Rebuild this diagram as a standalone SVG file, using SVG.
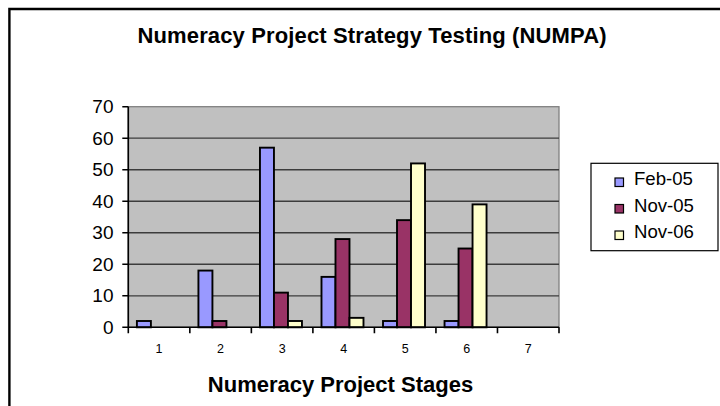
<svg xmlns="http://www.w3.org/2000/svg" width="720" height="406" viewBox="0 0 720 406">
<style>
text{font-family:"Liberation Sans",Arial,sans-serif;fill:#000}
.t{font-weight:bold;font-size:22px;text-anchor:middle}
.yl{font-size:19px;text-anchor:end}
.xl{font-size:12.5px;text-anchor:middle}
.lg{font-size:18.6px}
.grid{stroke:#3c3c3c;stroke-width:1.3}
.bar{stroke:#000;stroke-width:1.9}
.b{fill:#9999ff}.r{fill:#993366}.y{fill:#ffffcc}
.ax{stroke:#000;stroke-width:1.6;fill:none}
</style>
<rect width="720" height="406" fill="#fff"/>
<path d="M9.4,406 V9 H720" fill="none" stroke="#000" stroke-width="2.4"/>
<g id="title"><text class="t" x="372" y="43" textLength="469">Numeracy Project Strategy Testing (NUMPA)</text></g>
<g id="plot">
<rect x="128.3" y="106.7" width="430.7" height="220.6" fill="#c0c0c0" stroke="#808080" stroke-width="1.3"/>
<g class="grid">
<line x1="128.3" y1="295.79" x2="559" y2="295.79"/>
<line x1="128.3" y1="264.27" x2="559" y2="264.27"/>
<line x1="128.3" y1="232.76" x2="559" y2="232.76"/>
<line x1="128.3" y1="201.24" x2="559" y2="201.24"/>
<line x1="128.3" y1="169.73" x2="559" y2="169.73"/>
<line x1="128.3" y1="138.22" x2="559" y2="138.22"/>
</g>
</g>
<g id="bars" class="bar">
<rect class="b" x="136.9" y="321" width="14" height="6.3"/>
<rect class="b" x="198.43" y="270.57" width="14" height="56.73"/>
<rect class="r" x="212.43" y="321" width="14" height="6.3"/>
<rect class="b" x="259.96" y="147.67" width="14" height="179.63"/>
<rect class="r" x="273.96" y="292.63" width="14" height="34.67"/>
<rect class="y" x="287.96" y="321" width="14" height="6.3"/>
<rect class="b" x="321.49" y="276.88" width="14" height="50.42"/>
<rect class="r" x="335.49" y="239.06" width="14" height="88.24"/>
<rect class="y" x="349.49" y="317.85" width="14" height="9.45"/>
<rect class="b" x="383.01" y="321" width="14" height="6.3"/>
<rect class="r" x="397.01" y="220.15" width="14" height="107.15"/>
<rect class="y" x="411.01" y="163.43" width="14" height="163.87"/>
<rect class="b" x="444.54" y="321" width="14" height="6.3"/>
<rect class="r" x="458.54" y="248.51" width="14" height="78.79"/>
<rect class="y" x="472.54" y="204.4" width="14" height="122.9"/>
</g>
<g id="axes" class="ax">
<path d="M128.3,106.7 V327.3 H559"/>
<path d="M122.3,106.7H128.3M122.3,138.22H128.3M122.3,169.73H128.3M122.3,201.24H128.3M122.3,232.76H128.3M122.3,264.27H128.3M122.3,295.79H128.3M122.3,327.3H128.3"/>
<path d="M128.3,327.3V333.3M189.83,327.3V333.3M251.36,327.3V333.3M312.89,327.3V333.3M374.41,327.3V333.3M435.94,327.3V333.3M497.47,327.3V333.3M559,327.3V333.3"/>
</g>
<g id="ylabels">
<text class="yl" x="113.5" y="113">70</text>
<text class="yl" x="113.5" y="144.5">60</text>
<text class="yl" x="113.5" y="176">50</text>
<text class="yl" x="113.5" y="207.5">40</text>
<text class="yl" x="113.5" y="239">30</text>
<text class="yl" x="113.5" y="270.6">20</text>
<text class="yl" x="113.5" y="302.1">10</text>
<text class="yl" x="113.5" y="333.6">0</text>
</g>
<g id="xlabels">
<text class="xl" x="159.07" y="352.5">1</text>
<text class="xl" x="220.6" y="352.5">2</text>
<text class="xl" x="282.13" y="352.5">3</text>
<text class="xl" x="343.65" y="352.5">4</text>
<text class="xl" x="405.18" y="352.5">5</text>
<text class="xl" x="466.7" y="352.5">6</text>
<text class="xl" x="528.23" y="352.5">7</text>
</g>
<g id="xtitle"><text class="t" x="340.5" y="391.5">Numeracy Project Stages</text></g>
<g id="legend">
<rect x="591" y="163.3" width="127" height="87.4" fill="#fff" stroke="#000" stroke-width="1.2"/>
<rect class="b" x="615" y="178" width="8.5" height="8.5" stroke="#000" stroke-width="1.2"/>
<text class="lg" x="634" y="185">Feb-05</text>
<rect class="r" x="615" y="204.5" width="8.5" height="8.5" stroke="#000" stroke-width="1.2"/>
<text class="lg" x="634" y="211.5">Nov-05</text>
<rect class="y" x="615" y="231" width="8.5" height="8.5" stroke="#000" stroke-width="1.2"/>
<text class="lg" x="634" y="238">Nov-06</text>
</g>
</svg>
